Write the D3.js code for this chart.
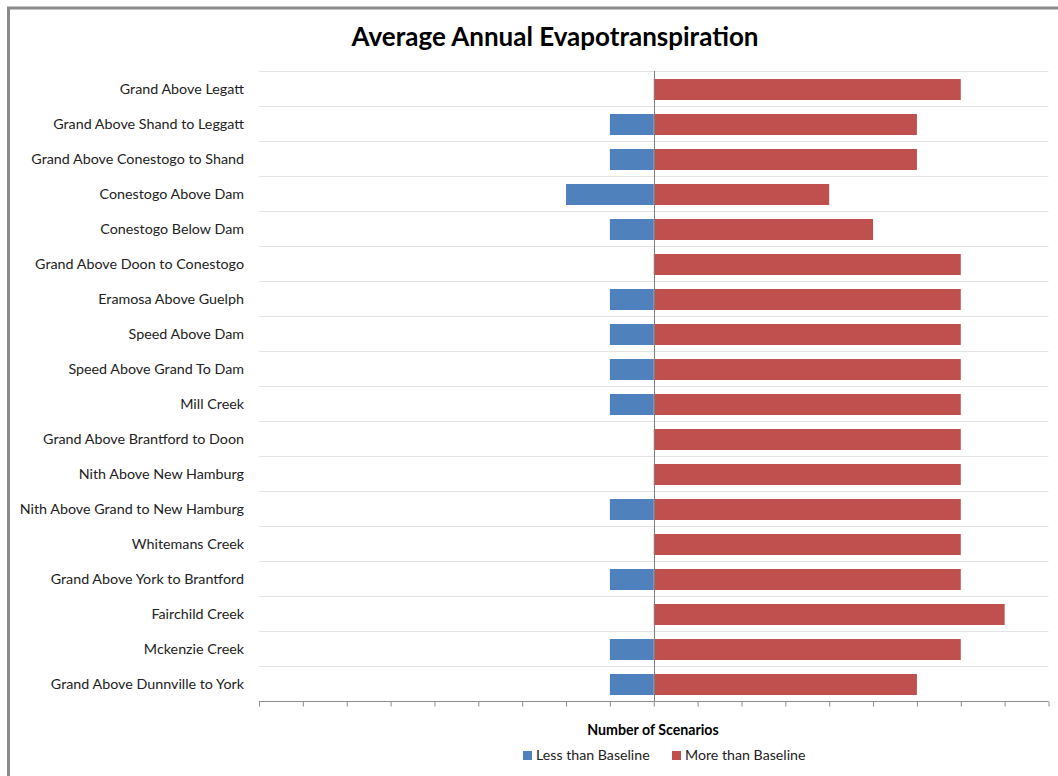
<!DOCTYPE html>
<html>
<head>
<meta charset="utf-8">
<script src="https://cdn.jsdelivr.net/npm/d3@7"></script>
<style>
  html, body { margin: 0; padding: 0; background: #fff; }
  svg { display: block; }
</style>
</head>
<body>
<svg id="chart" width="1058" height="776"></svg>
<script>
const categories = [
  "Grand Above Legatt",
  "Grand Above Shand to Leggatt",
  "Grand Above Conestogo to Shand",
  "Conestogo Above Dam",
  "Conestogo Below Dam",
  "Grand Above Doon to Conestogo",
  "Eramosa Above Guelph",
  "Speed Above Dam",
  "Speed Above Grand To Dam",
  "Mill Creek",
  "Grand Above Brantford to Doon",
  "Nith Above New Hamburg",
  "Nith Above Grand to New Hamburg",
  "Whitemans Creek",
  "Grand Above York to Brantford",
  "Fairchild Creek",
  "Mckenzie Creek",
  "Grand Above Dunnville to York"
];
const lessThanBaseline = [0, -1, -1, -2, -1, 0, -1, -1, -1, -1, 0, 0, -1, 0, -1, 0, -1, -1];
const moreThanBaseline = [7, 6, 6, 4, 5, 7, 7, 7, 7, 7, 7, 7, 7, 7, 7, 8, 7, 6];
const seriesNames = ["Less than Baseline", "More than Baseline"];
const seriesColors = ["#4F81BD", "#C0504D"];
const xTicks = d3.range(-9, 10, 1);

(function () {
const svg = d3.select("#chart");
const font = "Lato, 'Open Sans', sans-serif";

// frame
svg.append("rect").attr("x", 8.5).attr("y", 8).attr("width", 1070).attr("height", 800)
  .attr("fill", "none").attr("stroke", "#8a8a8a").attr("stroke-width", 3);

const pLeft = 259, pRight = 1048.5, pTop = 71, pBottom = 701;
const x = d3.scaleLinear().domain([-9, 9]).range([pLeft, pRight]);
const y = d3.scaleBand().domain(categories).range([pTop, pBottom]).paddingInner(0.4).paddingOuter(0.2);

// title
svg.append("text").attr("x", 555).attr("y", 46).attr("text-anchor", "middle")
  .attr("font-family", font).attr("font-weight", "bold").attr("font-size", 26)
  .attr("fill", "#000").text("Average Annual Evapotranspiration");

// horizontal gridlines (category boundaries)
const step = (pBottom - pTop) / categories.length;
const bounds = d3.range(categories.length).map(i => pTop + i * step);
svg.append("g").selectAll("line").data(bounds).join("line")
  .attr("x1", pLeft).attr("x2", pRight)
  .attr("y1", d => Math.round(d) + 0.5).attr("y2", d => Math.round(d) + 0.5)
  .attr("stroke", "#e3e3e3").attr("stroke-width", 1);

// bars
const rows = categories.map((c, i) => ({ c, less: lessThanBaseline[i], more: moreThanBaseline[i] }));
svg.append("g").selectAll("rect").data(rows.filter(d => d.less !== 0)).join("rect")
  .attr("x", d => x(d.less)).attr("width", d => x(0) - x(d.less))
  .attr("y", d => y(d.c) + 1).attr("height", y.bandwidth())
  .attr("fill", seriesColors[0]);
svg.append("g").selectAll("rect").data(rows.filter(d => d.more !== 0)).join("rect")
  .attr("x", x(0)).attr("width", d => x(d.more) - x(0))
  .attr("y", d => y(d.c) + 1).attr("height", y.bandwidth())
  .attr("fill", seriesColors[1]);

// zero line
svg.append("line").attr("x1", Math.round(x(0)) + 0.5).attr("x2", Math.round(x(0)) + 0.5)
  .attr("y1", pTop).attr("y2", pBottom).attr("stroke", "#7f7f7f").attr("stroke-width", 1);

// category labels
svg.append("g").selectAll("text").data(categories).join("text")
  .attr("x", 244).attr("y", d => y(d) + y.bandwidth() / 2)
  .attr("dy", "0.35em").attr("text-anchor", "end")
  .attr("font-family", font).attr("font-size", 14.3).attr("fill", "#222")
  .text(d => d);

// x axis (ticks, no labels)
const axis = d3.axisBottom(x).tickValues(xTicks).tickSize(5).tickFormat("");
const gx = svg.append("g").attr("transform", `translate(0,${pBottom + 0.5})`).call(axis);
gx.select(".domain").attr("stroke", "#8c8c8c").attr("d", `M${pLeft},0H${pRight}`);
gx.selectAll(".tick line").attr("stroke", "#8c8c8c");

// axis title
svg.append("text").attr("x", 653).attr("y", 735).attr("text-anchor", "middle")
  .attr("font-family", font).attr("font-weight", "bold").attr("font-size", 14.2)
  .attr("fill", "#000").text("Number of Scenarios");

// legend
const legendX = [523, 672];
const lg = svg.append("g").selectAll("g").data(seriesNames).join("g")
  .attr("transform", (d, i) => `translate(${legendX[i]},751)`);
lg.append("rect").attr("width", 9).attr("height", 9).attr("fill", (d, i) => seriesColors[i]);
lg.append("text").attr("x", 13).attr("y", 4.5).attr("dy", "0.35em")
  .attr("font-family", font).attr("font-size", 14.2).attr("fill", "#222").text(d => d);
})();
</script>
</body>
</html>
